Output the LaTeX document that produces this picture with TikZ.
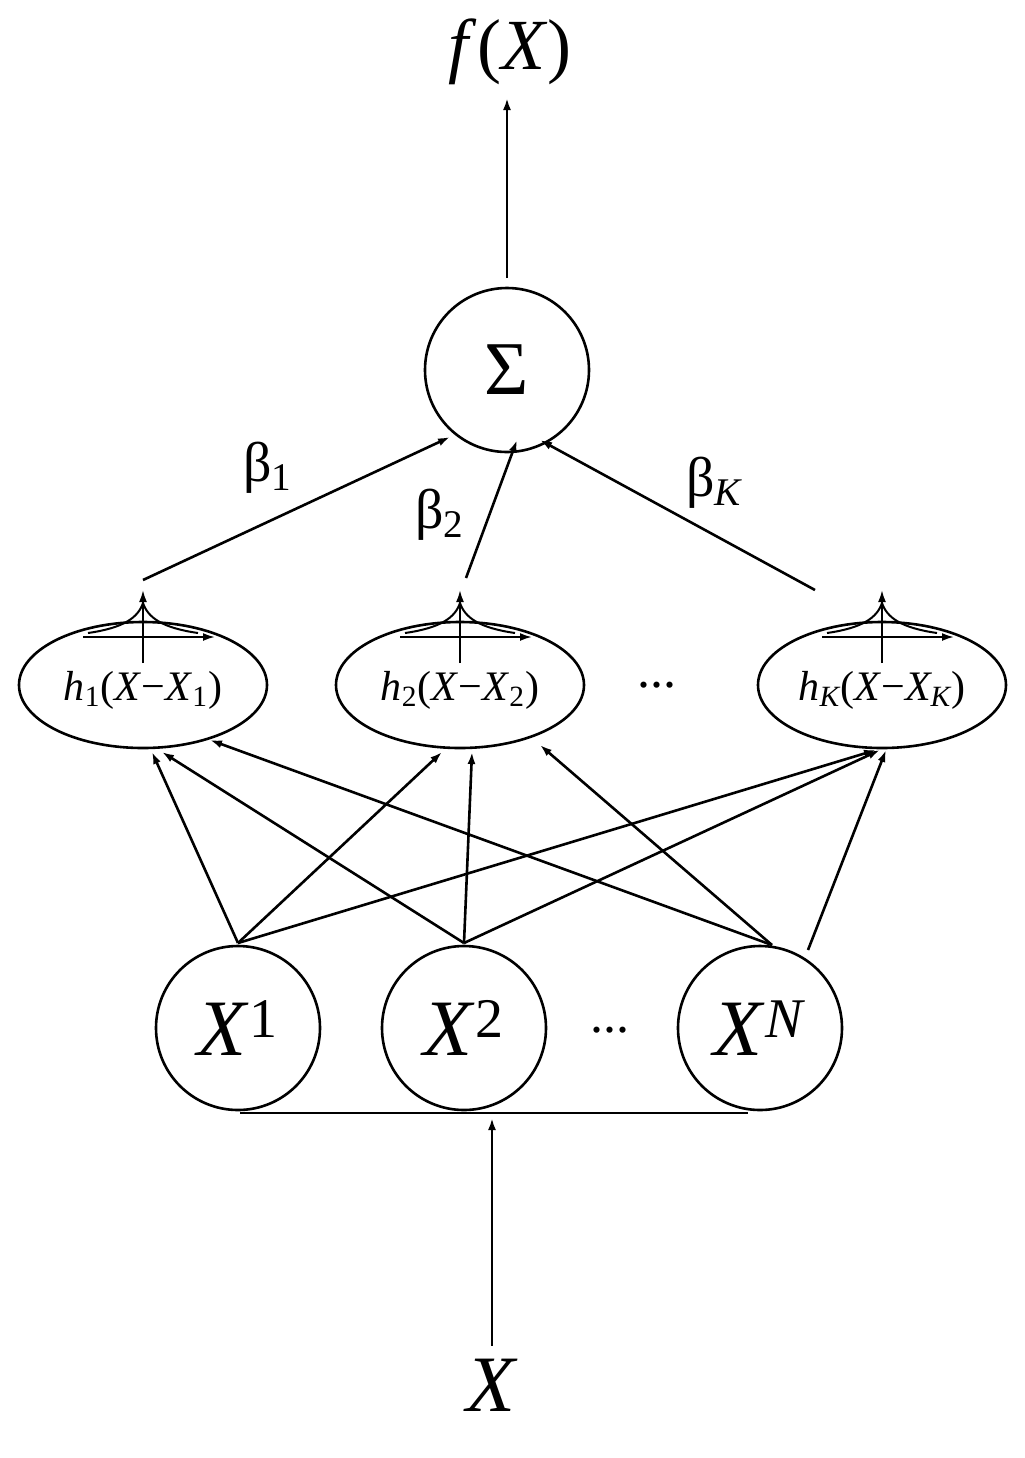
\documentclass[tikz,border=0pt]{standalone}
\usepackage{fontspec}
\setmainfont{Liberation Serif}
\usetikzlibrary{arrows.meta,shapes.geometric}
\newcommand{\fs}[1]{\fontsize{#1}{#1}\selectfont}
\begin{document}
\begin{tikzpicture}[x=0.5pt,y=-0.5pt,line width=1.3pt,
  arr/.style={-{Latex[length=6pt,width=4pt]}},
  circ/.style={draw,circle,minimum size=82pt,inner sep=0pt},
  ell/.style={draw,ellipse,minimum width=124pt,minimum height=63pt,inner sep=0pt}]
\useasboundingbox (0,0) rectangle (1024,1458);
\node (f) at (510,52) {\fs{36}\textit{f}(\textit{X})};
\node[circ] (S) at (507,370) {\fs{38}Σ};
\coordinate (Sb) at (507,278);
\draw[arr] (Sb) -- (507,98);
\foreach \n/\x in {h1/143,h2/460,hK/882}{
  \node[ell] (\n) at (\x,685) {};
  \draw[arr,line width=1pt] (\x-60,637) -- (\x+72,637);
  \draw[arr,line width=1pt] (\x,663) -- (\x,590);
  \draw[line width=1pt] (\x-55,633) .. controls (\x-20,628) and (\x-5,618) .. (\x,603) .. controls (\x+5,618) and (\x+20,628) .. (\x+55,633);
}
\node at (143,690) {\fs{21}\textit{h}\textsubscript{1}(\textit{X}−\textit{X}\textsubscript{1})};
\node at (460,690) {\fs{21}\textit{h}\textsubscript{2}(\textit{X}−\textit{X}\textsubscript{2})};
\node at (882,690) {\fs{21}\textit{h\textsubscript{K}}(\textit{X}−\textit{X\textsubscript{K}})};
\node at (657,685) {\fs{26}...};
\coordinate (t1) at (143,580); \coordinate (t2) at (466,578); \coordinate (tK) at (815,590);
\draw[arr] (t1) -- (450,437);
\draw[arr] (t2) -- (517,440);
\draw[arr] (tK) -- (540,440);
\node at (268,468) {\fs{28}β\textsubscript{1}};
\node at (440,515) {\fs{28}β\textsubscript{2}};
\node at (715,483) {\fs{28}β\textsubscript{\textit{K}}};
\node[circ] (x1) at (238,1028) {\fs{40}\textit{X}\textsuperscript{1}};
\node[circ] (x2) at (464,1028) {\fs{40}\textit{X}\textsuperscript{2}};
\node[circ] (xN) at (760,1028) {\fs{40}\textit{X}\textsuperscript{\textit{N}}};
\node at (610,1030) {\fs{26}...};
\coordinate (a1) at (238,943); \coordinate (a2) at (464,943);
\coordinate (aN) at (772,945); \coordinate (aN2) at (808,950);
\draw[arr] (a1) -- (152,752); \draw[arr] (a1) -- (442,752); \draw[arr] (a1) -- (876,750);
\draw[arr] (a2) -- (162,752); \draw[arr] (a2) -- (472,752); \draw[arr] (a2) -- (880,750);
\draw[arr] (aN) -- (210,740); \draw[arr] (aN) -- (540,745); \draw[arr] (aN2) -- (886,750);
\coordinate (bl) at (240,1113); \coordinate (br) at (748,1113);
\draw (bl) -- (br);
\node (X) at (492,1385) {\fs{40}\textit{X}};
\draw[arr] (X.north) ++(0,-5) -- (492,1118);
\end{tikzpicture}
\end{document}
